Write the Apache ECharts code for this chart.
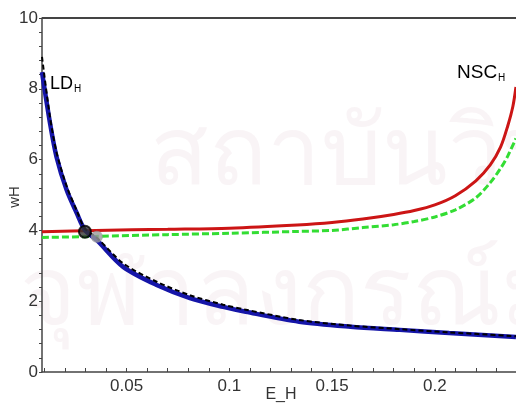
<!DOCTYPE html>
<html>
<head>
<meta charset="utf-8">
<script src="https://cdn.jsdelivr.net/npm/echarts@6/dist/echarts.min.js"></script>
<style>
  html, body { margin: 0; padding: 0; background: #fff; }
  #chart { width: 516px; height: 406px; }
</style>
</head>
<body>
<div id="chart"></div>
<script>
// E_H values and wH curves
const ldLine = [
  [0.0088, 8.47], [0.0127, 7.03], [0.0159, 6.07], [0.0208, 5.14], [0.0257, 4.49],
  [0.0297, 4.01], [0.0354, 3.73], [0.0483, 2.97], [0.0646, 2.46], [0.0808, 2.09],
  [0.097, 1.84], [0.108, 1.70], [0.134, 1.42], [0.159, 1.28], [0.183, 1.19],
  [0.207, 1.10], [0.2395, 0.99]
];
const ldDashed = [
  [0.0088, 8.9], [0.0127, 7.2], [0.0159, 6.2], [0.0208, 5.25], [0.0257, 4.56],
  [0.0297, 4.05], [0.0354, 3.80], [0.0483, 3.07], [0.0646, 2.55], [0.0808, 2.17],
  [0.097, 1.9], [0.108, 1.76], [0.134, 1.47], [0.159, 1.31], [0.183, 1.21],
  [0.207, 1.12], [0.2395, 1.01]
];
const nscLine = [
  [0.0088, 3.96], [0.035, 4.0], [0.07, 4.03], [0.1, 4.06], [0.133, 4.15],
  [0.15, 4.22], [0.165, 4.32], [0.18, 4.45], [0.19, 4.56], [0.2, 4.72],
  [0.21, 4.98], [0.22, 5.4], [0.227, 5.85], [0.232, 6.35], [0.2355, 6.95],
  [0.238, 7.5], [0.2395, 8.05]
];
const nscDashed = [
  [0.0088, 3.8], [0.035, 3.83], [0.07, 3.88], [0.1, 3.92], [0.133, 3.97],
  [0.15, 4.0], [0.165, 4.08], [0.18, 4.16], [0.19, 4.25], [0.2, 4.38],
  [0.21, 4.58], [0.22, 4.92], [0.227, 5.35], [0.232, 5.75], [0.2355, 6.1],
  [0.2395, 6.6]
];
const crossBlack = [[0.0297, 3.96]];
const crossGray = [[0.0355, 3.82]];

const xLabels = [0.05, 0.1, 0.15, 0.2];
const xTicks = [0.01, 0.02, 0.03, 0.04, 0.05, 0.06, 0.07, 0.08, 0.09, 0.1, 0.11, 0.12,
  0.13, 0.14, 0.15, 0.16, 0.17, 0.18, 0.19, 0.2, 0.21, 0.22, 0.23];
const yLabels = [0, 2, 4, 6, 8, 10];
const yTicks = [0, 0.4, 0.8, 1.2, 1.6, 2, 2.4, 2.8, 3.2, 3.6, 4, 4.4, 4.8, 5.2, 5.6, 6,
  6.4, 6.8, 7.2, 7.6, 8, 8.4, 8.8, 9.2, 9.6, 10];

const font = 'Liberation Sans, Arial, sans-serif';
const chart = echarts.init(document.getElementById('chart'), null, { renderer: 'canvas' });

chart.setOption({
  animation: false,
  backgroundColor: '#fff',
  grid: { left: 42, top: 18, width: 476, height: 354, containLabel: false, outerBoundsMode: 'none' },
  xAxis: {
    type: 'value', min: 0.0088, max: 0.2405,
    axisLine: { show: true, lineStyle: { color: '#444', width: 1.5 } },
    axisTick: { show: true, inside: true, length: 4, customValues: xTicks, lineStyle: { color: '#444' } },
    axisLabel: { customValues: xLabels, color: '#333', fontSize: 17, fontFamily: font, margin: 6,
      formatter: v => String(+v.toFixed(2)) },
    splitLine: { show: false }
  },
  yAxis: {
    type: 'value', min: 0, max: 10,
    axisLine: { show: true, lineStyle: { color: '#444', width: 1.5 } },
    axisTick: { show: true, inside: false, length: 3, customValues: yTicks, lineStyle: { color: '#444' } },
    axisLabel: { customValues: yLabels, color: '#333', fontSize: 17, fontFamily: font, margin: 4 },
    splitLine: { show: false }
  },
  graphic: [
    { type: 'text', left: 150, top: 110, z: -10, silent: true,
      style: { text: 'สถาบันวิทยบริการ', fill: '#c890a8', opacity: 0.1, fontSize: 96, fontFamily: 'sans-serif' } },
    { type: 'text', left: 20, top: 250, z: -10, silent: true,
      style: { text: 'จุฬาลงกรณ์มหาวิทยาลัย', fill: '#c890a8', opacity: 0.1, fontSize: 96, fontFamily: 'sans-serif' } },
    { type: 'line', shape: { x1: 42, y1: 18, x2: 516, y2: 18 }, style: { stroke: '#444', lineWidth: 2 } },
    // axis titles
    { type: 'text', x: 281, y: 395, z: 10,
      style: { text: 'E_H', fill: '#333', fontSize: 16, fontFamily: font, align: 'center', verticalAlign: 'middle' } },
    { type: 'text', x: 15, y: 197, rotation: Math.PI / 2, z: 10,
      style: { text: 'wH', fill: '#333', fontSize: 15, fontFamily: font, align: 'center', verticalAlign: 'middle' } },
    // curve labels
    { type: 'text', left: 50, top: 75, z: 10,
      style: { text: '{m|LD}{s|H}',
        rich: { m: { fontSize: 18, fontFamily: font, color: '#222' },
                s: { fontSize: 10, fontFamily: font, color: '#222', padding: [11, 0, 0, 1] } } } },
    { type: 'text', left: 457, top: 63, z: 10,
      style: { text: '{m|NSC}{s|H}',
        rich: { m: { fontSize: 19, fontFamily: font, color: '#222' },
                s: { fontSize: 10, fontFamily: font, color: '#222', padding: [11, 0, 0, 1] } } } }
  ],
  series: [
    { type: 'line', data: nscLine, smooth: 0.3, showSymbol: false, clip: true,
      lineStyle: { color: '#cc1515', width: 3 }, z: 2 },
    { type: 'line', data: nscDashed, smooth: 0.3, showSymbol: false, clip: true,
      lineStyle: { color: '#33dd33', width: 3, type: [7, 3] }, z: 2 },
    { type: 'line', data: ldLine, smooth: 0.3, showSymbol: false, clip: true,
      lineStyle: { color: '#1515a8', width: 4.5 }, z: 3 },
    { type: 'line', data: ldDashed, smooth: 0.3, showSymbol: false, clip: true,
      lineStyle: { color: '#000', width: 2, type: [5, 3] }, z: 4 },
    { type: 'scatter', data: crossBlack, symbolSize: 12,
      itemStyle: { color: '#333', borderColor: '#000', borderWidth: 2 }, z: 6 },
    { type: 'scatter', data: crossGray, symbolSize: 12,
      itemStyle: { color: '#9a9a9a' }, z: 5 }
  ]
});
</script>
</body>
</html>
